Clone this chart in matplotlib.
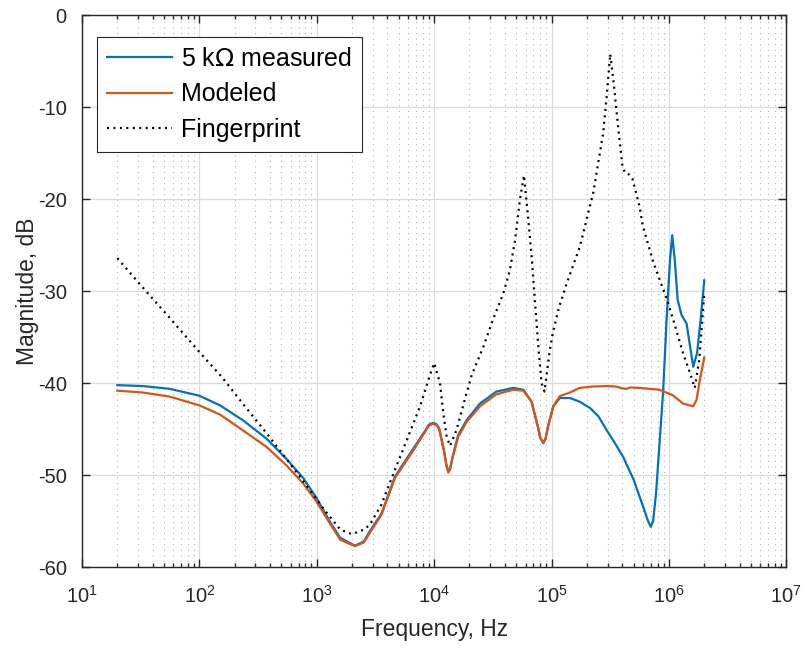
import matplotlib
matplotlib.use('Agg')
import matplotlib.pyplot as plt
from matplotlib.ticker import LogLocator, NullFormatter

plt.rcParams['font.family'] = ['Liberation Sans', 'DejaVu Sans']
plt.rcParams['axes.unicode_minus'] = False

# measured response, 5 kOhm
f_meas = [20, 33, 56, 100, 150, 234, 372, 550, 767, 1000, 1288, 1585, 2113, 2512,
          2818, 3548, 4634, 6637, 8630, 9000, 9772, 10500, 11040, 12110, 12700,
          13180, 13650, 14350, 16030, 18920, 24550, 33880, 47210, 57540, 67610,
          77090, 80000, 85110, 89000, 93330, 103500, 117500, 143600, 173800,
          213800, 251200, 295100, 346700, 407400, 501200, 602600, 660700, 699800,
          732800, 776200, 831800, 891300, 955000, 1021000, 1067000, 1122000,
          1186000, 1282000, 1413000, 1514000, 1611000, 1738000, 1862000, 2000000]
db_meas = [-40.2, -40.3, -40.6, -41.35, -42.4, -44.0, -46.0, -48.2, -50.3, -52.5,
           -55.0, -56.8, -57.65, -57.2, -56.1, -54.2, -50.15, -47.1, -44.9, -44.5,
           -44.3, -44.45, -44.9, -47.25, -48.8, -49.6, -49.3, -48.0, -45.6, -44.0,
           -42.2, -40.9, -40.5, -40.7, -42.0, -44.9, -45.9, -46.5, -46.0, -44.7,
           -42.5, -41.6, -41.6, -42.0, -42.7, -43.6, -45.1, -46.5, -48.0, -50.5,
           -53.4, -54.9, -55.6, -55.0, -52.0, -46.5, -41.0, -33.1, -26.6, -23.9,
           -26.6, -30.9, -32.6, -33.5, -36.0, -38.2, -36.7, -33.1, -28.8]

# modeled response
f_model = [20, 33, 56, 100, 150, 234, 372, 550, 767, 1000, 1288, 1585, 2113, 2512,
           2818, 3548, 4634, 6637, 8630, 9000, 9772, 10500, 11040, 12110, 12700,
           13180, 13650, 14350, 16030, 18920, 24550, 33880, 47210, 57540, 67610,
           77090, 80000, 85110, 89000, 93330, 103500, 117500, 143600, 173800,
           223900, 295100, 354800, 398100, 436500, 467700, 562300, 831800,
           1081000, 1318000, 1611000, 1718000, 1837000, 2000000]
db_model = [-40.8, -41.0, -41.45, -42.4, -43.4, -45.1, -46.9, -48.9, -50.9, -52.9,
            -55.2, -57.0, -57.7, -57.3, -56.3, -54.3, -50.3, -47.3, -45.0, -44.6,
            -44.4, -44.55, -45.0, -47.35, -48.9, -49.7, -49.4, -48.1, -45.8, -44.2,
            -42.5, -41.2, -40.7, -40.8, -42.0, -44.9, -45.9, -46.5, -46.0, -44.7,
            -42.5, -41.4, -41.0, -40.5, -40.35, -40.3, -40.35, -40.55, -40.6,
            -40.45, -40.5, -40.7, -41.3, -42.2, -42.5, -41.8, -39.6, -37.2]

# fingerprint
f_fp = [20, 33, 56, 100, 155, 234, 372, 550, 813, 1135, 1585, 1995, 2512, 2818,
        3548, 4345, 5834, 7586, 9204, 10000, 11220, 11970, 12790, 13650, 15490,
        18200, 20890, 26300, 31620, 38900, 44160, 48980, 53700, 58210, 63100,
        67610, 72440, 77620, 82220, 87100, 96600, 102300, 114800, 134900,
        173800, 226500, 275400, 295100, 316200, 338800, 371500, 402700, 426600,
        457100, 489800, 562300, 597000, 734500, 955000, 1089000, 1318000,
        1514000, 1660000, 1811000, 1897000, 2000000]
db_fp = [-26.4, -29.6, -32.9, -36.6, -39.3, -42.2, -45.4, -48.2, -51.05, -53.6,
         -55.9, -56.4, -55.9, -55.4, -53.2, -50.3, -46.2, -42.5, -39.1, -37.8,
         -40.0, -43.3, -45.8, -46.8, -45.1, -41.8, -39.1, -36.0, -33.1, -30.2,
         -27.7, -24.4, -20.1, -17.4, -21.9, -26.2, -31.3, -36.4, -40.0, -40.9,
         -36.4, -34.6, -31.9, -29.1, -25.2, -19.3, -12.8, -8.8, -4.2, -7.4,
         -12.5, -16.5, -17.2, -17.3, -17.8, -20.8, -22.8, -26.8, -30.8, -33.1,
         -36.7, -38.9, -40.5, -37.5, -34.2, -30.2]

fig = plt.figure(figsize=(8.04, 6.48), dpi=100)
ax = fig.add_axes([0.102, 0.1245, 0.876, 0.8519])

ax.semilogx(f_meas, db_meas, color='#0072BD', lw=1.6, label='5 k$\\Omega$ measured')
ax.semilogx(f_model, db_model, color='#D95319', lw=1.6, label='Modeled')
ax.semilogx(f_fp, db_fp, color='black', lw=1.6, ls=(0, (0.9, 2.0)), label='Fingerprint')

ax.set_xlim(10, 1e7)
ax.set_ylim(-60, 0)
ax.set_yticks(range(-60, 1, 10))
ax.set_xticks([10.0 ** k for k in range(1, 8)])
ax.xaxis.set_minor_locator(LogLocator(base=10, subs=range(2, 10), numticks=20))
ax.xaxis.set_minor_formatter(NullFormatter())

ax.grid(True, which='major', color='#dcdcdc', lw=0.9)
ax.grid(True, which='minor', axis='x', color='#b0b0b0', lw=0.8, ls=(0, (1, 4)))
ax.set_axisbelow(True)

ax.tick_params(which='both', direction='in', top=True, right=True, labelsize=14.5,
               colors='#262626', width=1.0)
ax.tick_params(which='major', length=6)
ax.tick_params(which='minor', length=3)
ax.tick_params(axis='y', pad=11)
ax.tick_params(axis='x', pad=13)
for s in ax.spines.values():
    s.set_color('#262626')
    s.set_linewidth(1.0)

ax.set_xlabel('Frequency, Hz', fontsize=16.5, color='#262626', labelpad=8)
ax.set_ylabel('Magnitude, dB', fontsize=16.5, color='#262626', labelpad=-1)

leg = ax.legend(loc='upper left', bbox_to_anchor=(0.0213, 0.9607), borderaxespad=0,
                fontsize=18, handlelength=2.6, handletextpad=0.35, labelspacing=0.46,
                borderpad=0.4, fancybox=False, framealpha=1, edgecolor='#262626')
leg.get_frame().set_linewidth(0.8)

fig.savefig('out.png', dpi=100)
